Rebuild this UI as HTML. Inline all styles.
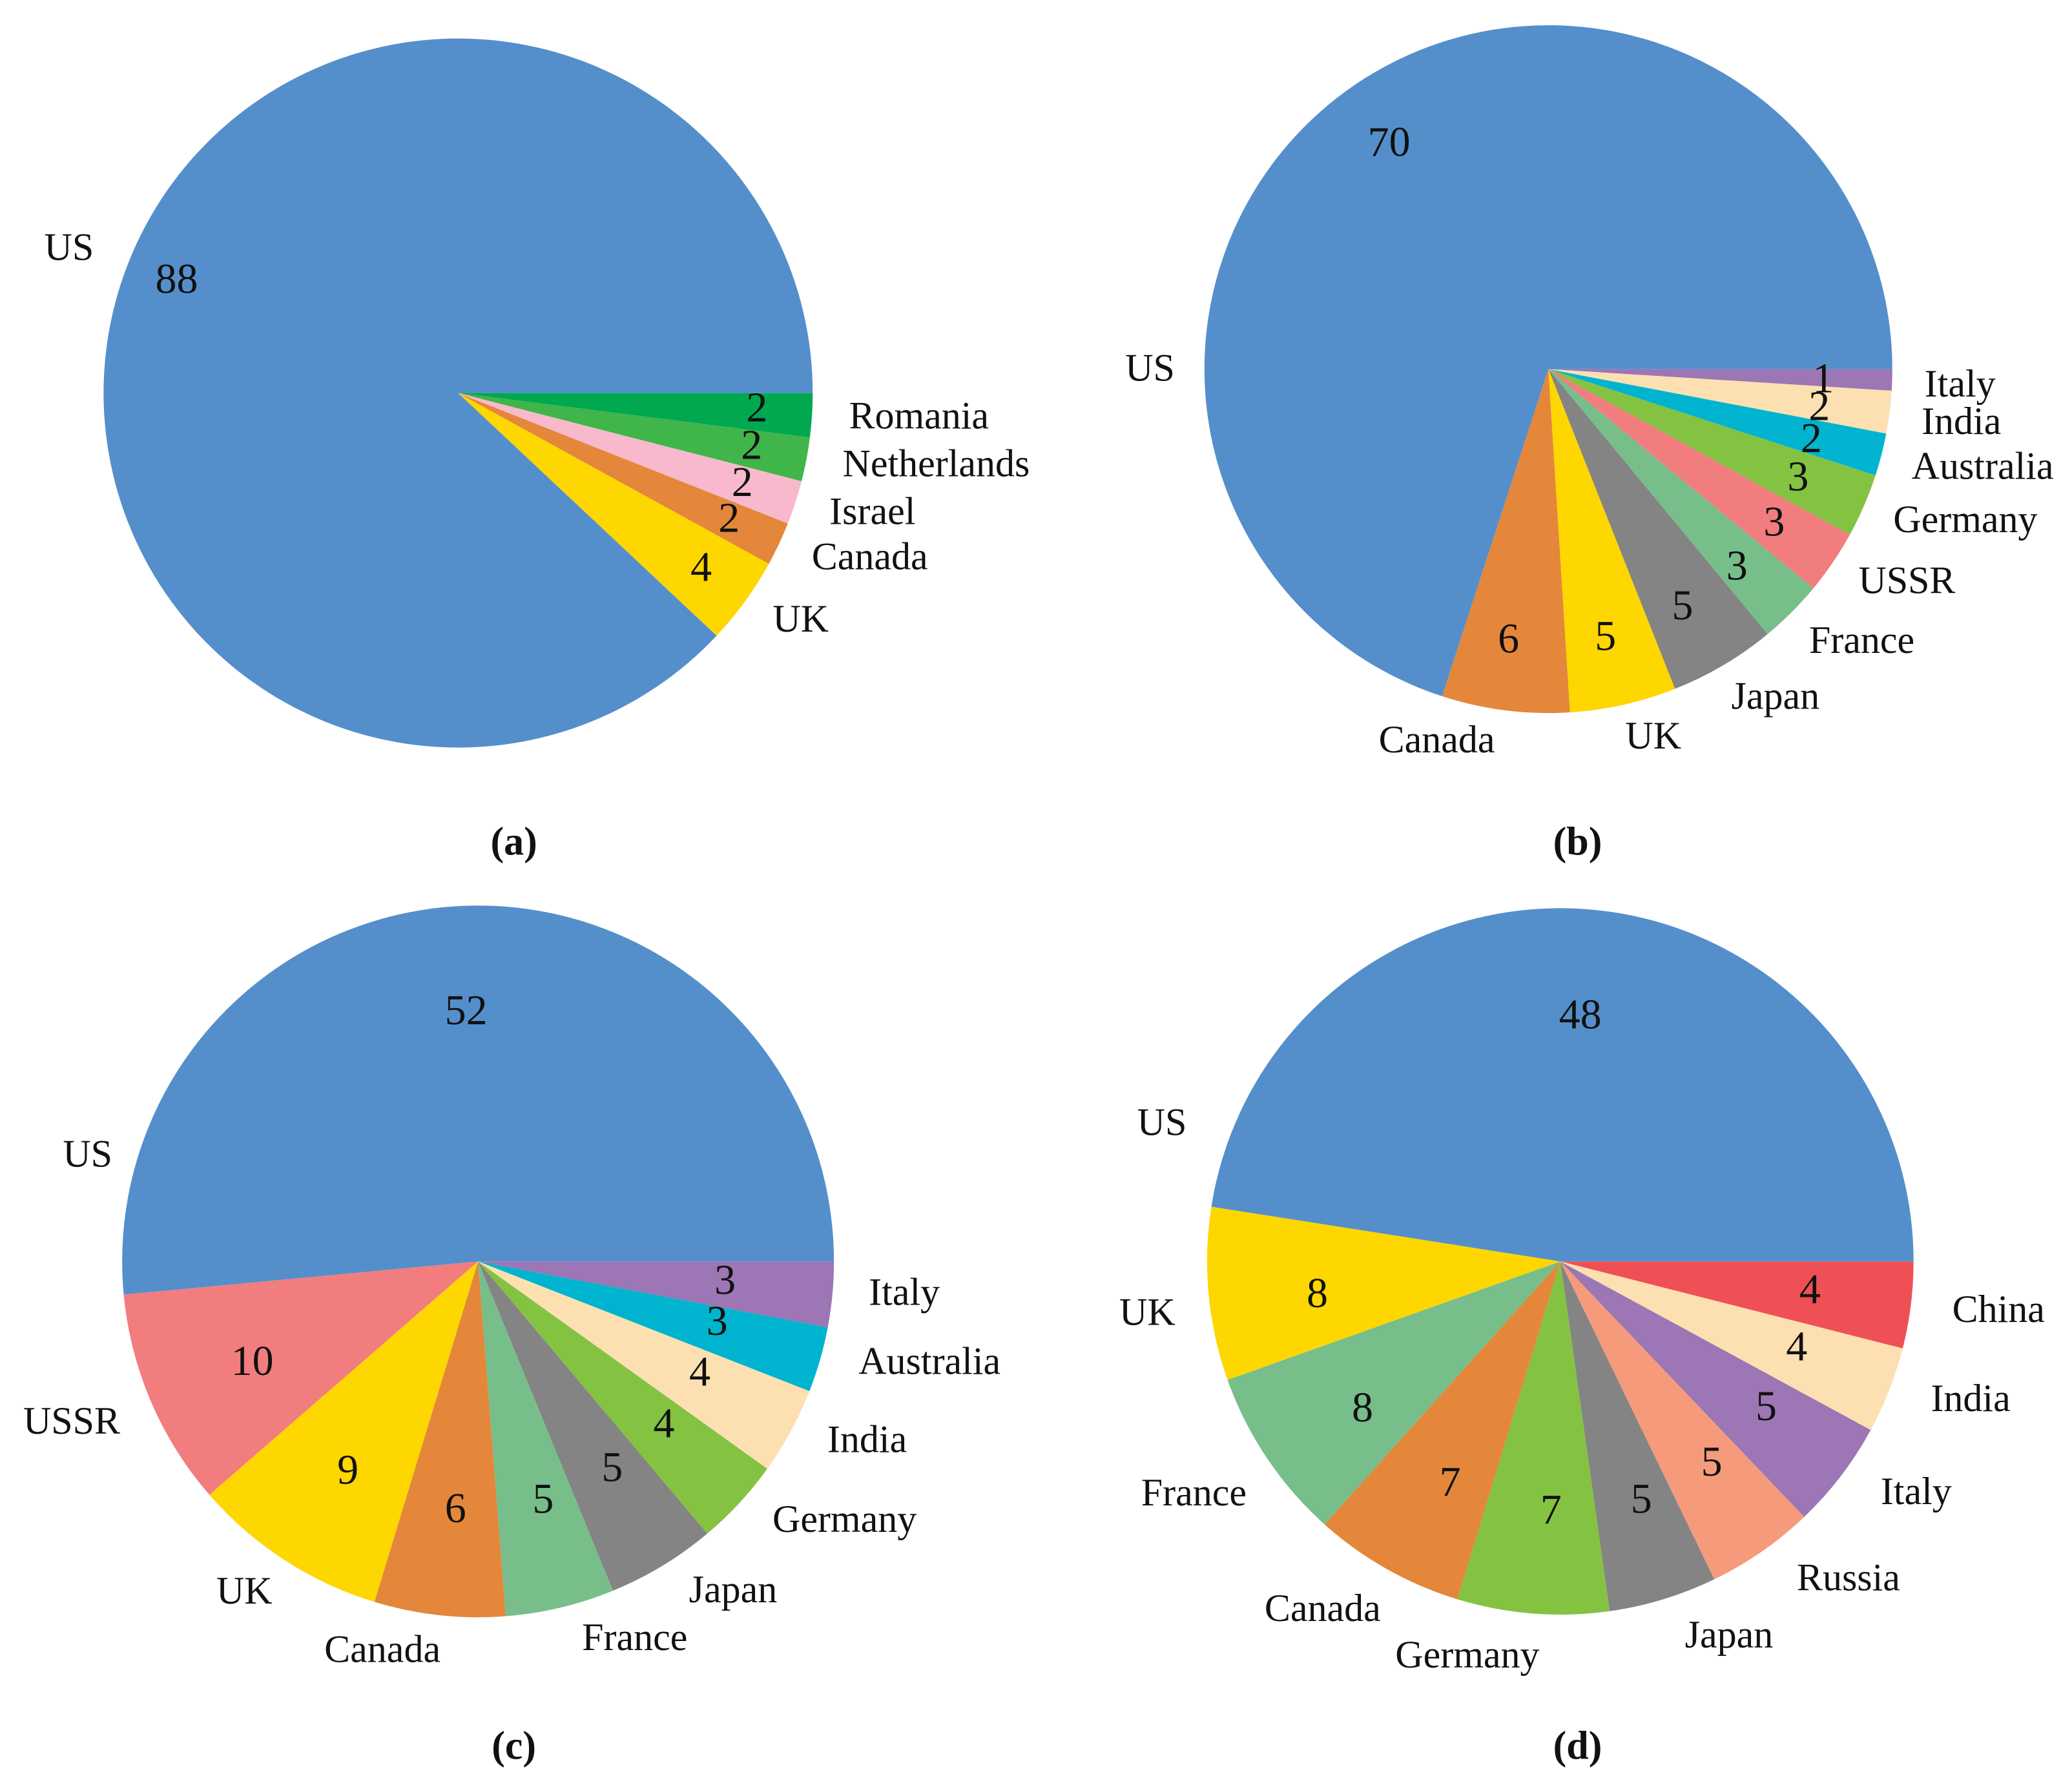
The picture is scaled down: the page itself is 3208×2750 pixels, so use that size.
<!DOCTYPE html>
<html><head><meta charset="utf-8"><style>
html,body{margin:0;padding:0;background:#fff;}
svg{display:block;}
text{font-family:"Liberation Serif",serif;font-size:60px;fill:#111;}
.val{font-size:66px;}
.cap{font-weight:bold;font-size:62px;}
</style></head><body>
<svg id="fig" width="3208" height="2750" viewBox="0 0 3208 2750" xmlns="http://www.w3.org/2000/svg"></svg>
<script>
// ---- data (clockwise from 3 o'clock) ----
const catsA = ["Romania","Netherlands","Israel","Canada","UK","US"];
const valsA = [2,2,2,2,4,88];
const catsB = ["Italy","India","Australia","Germany","USSR","France","Japan","UK","Canada","US"];
const valsB = [1,2,2,3,3,3,5,5,6,70];
const catsC = ["Italy","Australia","India","Germany","Japan","France","Canada","UK","USSR","US"];
const valsC = [3,3,4,4,5,5,6,9,10,52];
const catsD = ["China","India","Italy","Russia","Japan","Germany","Canada","France","UK","US"];
const valsD = [4,4,5,5,5,7,7,8,8,48];

const COLORS = {US:"#548fcb",Romania:"#00a84f",Netherlands:"#40b54a",Israel:"#f7b9cb",Canada:"#e4873a",UK:"#fed600",
 Japan:"#848484",France:"#77be8b",USSR:"#f27d7f",Germany:"#84c341",Australia:"#00b4cf",India:"#fde0b2",
 Italy:"#9c76b5",Russia:"#f59b7b",China:"#ef5055"};

const S = 2.056;
// label layout positions (in reduced-image units), not data
const layA = {cx:345,cy:296,r:267,
 name:[[692,313],[705,349],[657,385],[655,419],[603,466],[52,186]],
 val:[[570,307],[566,335],[559,363],[549,390],[528,427],[133,210]], cap:[387,634,"(a)"]};
const layB = {cx:1166,cy:278,r:259,
 name:[[1476,289],[1477,317],[1493,351],[1480,391],[1436,437],[1402,482],[1337,524],[1245,554],[1082,557],[866,277]],
 val:[[1373,285],[1370,306],[1364,330],[1354,359],[1336,393],[1308,426],[1267,456],[1209,479],[1136,481],[1046,107]], cap:[1188,634,"(b)"]};
const layC = {cx:360,cy:950,r:268,
 name:[[681,973],[700,1025],[653,1084],[636,1144],[552,1197],[478,1233],[288,1242],[184,1198],[54,1070],[66,869]],
 val:[[546,964],[540,995],[527,1033],[500,1072],[461,1105],[409,1129],[343,1136],[262,1107],[190,1025],[351,761]], cap:[387,1315,"(c)"]};
const layD = {cx:1175,cy:950,r:266,
 name:[[1505,986],[1484,1053],[1443,1123],[1392,1188],[1302,1231],[1105,1246],[996,1211],[899,1124],[864,988],[875,845]],
 val:[[1363,971],[1353,1014],[1330,1059],[1289,1101],[1236,1129],[1168,1137],[1092,1116],[1026,1060],[992,974],[1190,764]], cap:[1188,1315,"(d)"]};

const NS="http://www.w3.org/2000/svg";
const svg=document.getElementById('fig');
function mk(tag,attrs,parent){const e=document.createElementNS(NS,tag);for(const k in attrs)e.setAttribute(k,attrs[k]);parent.appendChild(e);return e;}

function drawPie(id,cats,vals,lay){
  const g=mk('g',{},svg);
  
  
  const cx=lay.cx*S, cy=lay.cy*S, r=lay.r*S;
  const total=vals.reduce((a,b)=>a+b,0);
  let a0=0;
  vals.forEach((v,i)=>{
    const a1=a0+v/total*2*Math.PI;
    const x0=cx+r*Math.cos(a0), y0=cy+r*Math.sin(a0);
    const x1=cx+r*Math.cos(a1), y1=cy+r*Math.sin(a1);
    const large=(a1-a0)>Math.PI?1:0;
    const p=mk('path',{d:`M${cx},${cy} L${x0},${y0} A${r},${r} 0 ${large} 1 ${x1},${y1} Z`,fill:COLORS[cats[i]]||"#999"},g);
    
    
    a0=a1;
  });
  cats.forEach((c,i)=>{
    const n=lay.name[i], t=mk('text',{x:n[0]*S,y:n[1]*S,'text-anchor':'middle','dominant-baseline':'central'},g);
    t.textContent=c;
    
    
    const vv=lay.val[i], tv=mk('text',{x:vv[0]*S,y:vv[1]*S,'text-anchor':'middle','dominant-baseline':'central','class':'val'},g);
    tv.textContent=String(vals[i]);
    
    
  });
  const cp=mk('text',{x:lay.cap[0]*S,y:lay.cap[1]*S,'text-anchor':'middle','dominant-baseline':'central','class':'cap'},svg);
  cp.textContent=lay.cap[2];
  
  
}
drawPie('a',catsA,valsA,layA);
drawPie('b',catsB,valsB,layB);
drawPie('c',catsC,valsC,layC);
drawPie('d',catsD,valsD,layD);
</script>
</body></html>
